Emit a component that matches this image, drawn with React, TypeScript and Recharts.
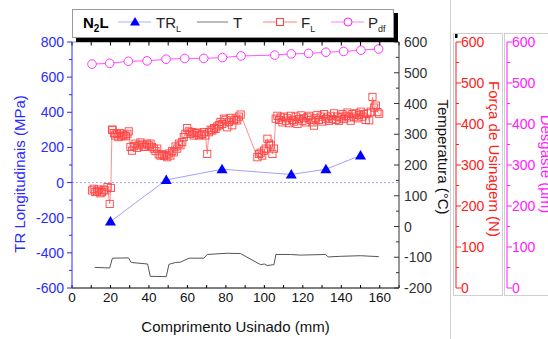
import { ComposedChart, Line, XAxis, YAxis, ReferenceLine } from "recharts";

const FONT = "'Liberation Sans', Arial, sans-serif";
const BLUE = "#2b2bff";
const RED = "#ff2020";
const MAG = "#ff20ff";

// eixo x e ticks
const xTicks = [0, 10, 20, 30, 40, 50, 60, 70, 80, 90, 100, 110, 120, 130, 140, 150, 160, 170];
const trTicks = [-600, -500, -400, -300, -200, -100, 0, 100, 200, 300, 400, 500, 600, 700, 800];
const tTicks = [-200, -150, -100, -50, 0, 50, 100, 150, 200, 250, 300, 350, 400, 450, 500, 550, 600];
const fTicks = [0, 50, 100, 150, 200, 250, 300, 350, 400, 450, 500, 550, 600];

// TR longitudinais (MPa)
const trX = [20, 49, 78, 114, 132, 150];
const trVal = [-222, 15, 76, 46, 76, 154];

// Temperatura (°C)
const tX = [11.8, 19.6, 21, 29.4, 30.8, 39.3, 40.7, 49, 50.4, 53.8, 56.4, 60.8, 68.6, 70.3, 80.7, 87.6, 98, 100, 101.5, 105, 106, 113.6, 118.8, 131.8, 133.2, 139.6, 150, 159.5];
const tVal = [-133, -135, -103, -102, -117, -122, -162, -163, -123, -117, -116, -103, -103, -91, -87, -88, -124, -122, -127, -124, -91, -91, -93, -91, -99, -97, -95, -98];

// Forca de usinagem (N)
const fX = [
  10.4, 11.3, 12.1, 13.0, 13.9, 14.8, 15.6, 16.5, 17.3, 18.5, 19.6, 20.2, 20.8,
  21.1, 21.8, 22.5, 23.3, 24.1, 24.8, 25.6, 26.4, 27.2, 28.1, 28.8, 29.5,
  30.4, 31.2, 32.1, 33.0, 33.8, 34.7, 35.6, 36.5, 37.3, 38.2, 39.0, 39.9, 40.8, 41.6, 42.5, 43.4, 44.3,
  45.1, 46.0, 46.9, 47.8, 48.6, 49.5, 50.4, 51.2, 52.1, 52.9, 53.8, 54.7, 55.6, 56.4, 57.3, 58.1, 59.0,
  59.9, 60.7, 61.6, 62.5, 63.3, 64.2, 65.1, 66.0, 66.8, 67.7, 68.6, 69.4, 70.3, 71.2, 72.1, 72.9, 73.8,
  74.6, 75.5, 76.4, 77.2, 78.1, 79.0, 79.8, 80.7, 81.6, 82.4, 83.3, 84.2, 85.1, 85.9, 86.8, 87.7,
  96.4, 97.2, 98.1, 98.9, 99.8, 100.7, 101.6, 102.4, 103.3, 104.2, 105.0, 105.9,
  106.8, 107.6, 108.5, 109.4, 110.2, 111.1, 112.0, 112.8, 113.7, 114.6, 115.4, 116.3, 117.2, 118.0,
  118.9, 119.8, 120.6, 121.5, 122.4, 123.2, 124.1, 125.0, 125.8, 126.7, 127.6, 128.4, 129.3, 130.2,
  131.0, 131.9, 132.8, 133.6, 134.5, 135.4, 136.2, 137.1, 138.0, 138.8, 139.7, 140.6, 141.4, 142.3,
  143.2, 144.0, 144.9, 145.8, 146.6, 147.5, 148.4, 149.2, 150.1, 151.0, 151.8, 152.7, 153.6, 154.5,
  155.3, 156.2, 157.1, 158.0, 158.8, 159.7,
];
const fVal = [
  238, 242, 234, 236, 240, 231, 234, 240, 238, 246, 205, 244, 386,
  386, 378, 372, 376, 368, 378, 370, 374, 372, 370, 376, 382,
  344, 335, 346, 352, 342, 348, 355, 350, 344, 345, 352, 348, 352, 344, 340, 334, 340,
  326, 323, 326, 322, 324, 319, 328, 323, 334, 331, 345, 340, 352, 348, 356, 368, 376,
  390, 382, 376, 380, 372, 378, 379, 372, 374, 376, 380, 372, 327, 380, 386, 384, 390,
  388, 394, 397, 405, 400, 413, 410, 392, 405, 415, 397, 409, 413, 409, 418, 423,
  319, 327, 330, 323, 335, 340, 364, 352, 348, 327, 340, 413,
  420, 410, 416, 404, 418, 408, 414, 402, 420, 410, 406, 418, 400, 412,
  421, 408, 414, 404, 416, 420, 410, 404, 396, 414, 422, 410, 418, 406,
  424, 412, 416, 408, 420, 412, 426, 410, 418, 408, 416, 424, 412, 420,
  428, 416, 408, 424, 418, 426, 414, 422, 430, 418, 424, 410, 426, 409,
  430, 466, 440, 445, 429, 425,
];

// Desgaste P_df
const pX = [10.4, 19.6, 29.3, 39, 48.9, 58.6, 68.5, 78.2, 87.9, 105.4, 114, 123, 132, 141.2, 150.2, 159.4];
const pVal = [546, 548, 553, 554, 558, 560, 560, 562, 566, 568, 571, 572, 575, 577, 580, 583];

const toPts = (xs: number[], vs: number[]) => xs.map((x, i) => ({ x, v: vs[i] }));
const trData = toPts(trX, trVal);
const tData = toPts(tX, tVal);
const fData = toPts(fX, fVal);
const pData = toPts(pX, pVal);

const TOP = 42;
const BOTTOM = 288;

const xTick = (props: any) => {
  const { x, payload } = props;
  const v = payload.value;
  return (
    <g>
      <line x1={x} x2={x} y1={BOTTOM} y2={BOTTOM - 3} stroke="#000" />
      <line x1={x} x2={x} y1={TOP} y2={TOP + 3.5} stroke="#000" />
      {v % 20 === 0 && v <= 160 && (
        <text x={x} y={302} textAnchor="middle" fontSize={13.5} fontFamily={FONT} fill="#111">
          {v}
        </text>
      )}
    </g>
  );
};

// ticks de eixo y: dir -1 = para a esquerda; a linha do eixo vai junto
const yTick = (axisX: number, dir: number, major: number, color: string, labelX: number, anchor: string) => (props: any) => {
  const { y, payload, index } = props;
  const v = payload.value;
  const isMajor = v % major === 0;
  const len = isMajor ? 5 : 3;
  return (
    <g>
      {index === 0 && <line x1={axisX} x2={axisX} y1={TOP} y2={BOTTOM} stroke={color} />}
      <line x1={axisX} x2={axisX + dir * len} y1={y} y2={y} stroke={color} />
      {isMajor && (
        <text x={labelX} y={y} dy={5} textAnchor={anchor} fontSize={14} fontFamily={FONT} fill={color}>
          {v}
        </text>
      )}
    </g>
  );
};

const VText = ({ x, y, angle, color, txt }: any) => (
  <text
    x={x}
    y={y}
    transform={`rotate(${angle} ${x} ${y})`}
    textAnchor="middle"
    dominantBaseline="central"
    fontSize={15}
    fontFamily={FONT}
    fill={color}
  >
    {txt}
  </text>
);

const square = (p: any) => (
  <rect key={`f${p.index}`} x={p.cx - 3.6} y={p.cy - 3.6} width={7.2} height={7.2} fill="none" stroke="#ff4444" strokeWidth={0.9} />
);
const circle = (p: any) => (
  <circle key={`p${p.index}`} cx={p.cx} cy={p.cy} r={4.3} fill="#fff" stroke={MAG} strokeWidth={0.9} />
);
const triangle = (p: any) => (
  <path key={`t${p.index}`} d={`M${p.cx},${p.cy - 5.5}L${p.cx + 5.5},${p.cy + 4}L${p.cx - 5.5},${p.cy + 4}Z`} fill="#0000ff" />
);

function LegendBox() {
  const y = 22;
  return (
    <div
      style={{
        position: "absolute",
        left: 72,
        top: 9,
        width: 320,
        height: 27,
        background: "#fff",
        border: "1px solid #999",
        boxShadow: "4px 4px 0 #000",
      }}
    >
      <svg width={320} height={27} style={{ position: "absolute", left: -1, top: -1 }} fontFamily={FONT}>
        <g transform="translate(-72,-9)">
          <text x={83} y={28} fontSize={15} fontWeight="bold" fill="#000">
            N<tspan fontSize={10} dy={4}>2</tspan>
            <tspan dy={-4}>L</tspan>
          </text>
          <line x1={118} x2={151} y1={y} y2={y} stroke="#aab0ff" />
          <path d={`M135,${y - 5}L140,${y + 3.5}L130,${y + 3.5}Z`} fill="#0000ff" />
          <text x={156} y={28} fontSize={15} fill="#222">
            TR<tspan fontSize={9} dy={4}>L</tspan>
          </text>
          <line x1={197} x2={228} y1={y} y2={y} stroke="#777" />
          <text x={233} y={28} fontSize={15} fill="#222">T</text>
          <line x1={263} x2={297} y1={y} y2={y} stroke="#ff8080" />
          <rect x={276.5} y={y - 3.5} width={7} height={7} fill="#fff" stroke="#ff4444" />
          <text x={301} y={28} fontSize={15} fill="#222">
            F<tspan fontSize={9} dy={4}>L</tspan>
          </text>
          <line x1={331} x2={364} y1={y} y2={y} stroke="#ff80ff" />
          <circle cx={348} cy={y} r={4} fill="#fff" stroke={MAG} />
          <text x={368} y={28} fontSize={15} fill="#222">
            P<tspan fontSize={9} dy={4}>df</tspan>
          </text>
        </g>
      </svg>
    </div>
  );
}

export default function App() {
  return (
    <div style={{ position: "absolute", left: 0, top: 0, width: 548, height: 339, overflow: "hidden", background: "#fff" }}>
      <div style={{ position: "absolute", left: 450, top: 0, width: 1, height: 339, background: "#d0d0d0" }} />
      <div style={{ position: "absolute", left: 453, top: 33, width: 48, height: 261, border: "1px solid #d0d0d0" }} />
      <div style={{ position: "absolute", left: 504, top: 33, width: 60, height: 261, border: "1px solid #d0d0d0" }} />
      <div style={{ position: "absolute", left: 0, top: 0 }}>
        <ComposedChart width={548} height={339} margin={{ top: TOP, right: 0, bottom: 0, left: 0 }}>
          <XAxis
            dataKey="x"
            type="number"
            domain={[0, 170]}
            ticks={xTicks}
            height={339 - BOTTOM}
            axisLine={{ stroke: "#000" }}
            tickLine={false}
            tick={xTick}
            interval={0}
            allowDataOverflow
          />
          <YAxis
            yAxisId="tr"
            orientation="left"
            width={72}
            domain={[-600, 800]}
            ticks={trTicks}
            interval={0}
            axisLine={false}
            tickLine={false}
            tick={yTick(72, -1, 200, BLUE, 64, "end")}
          />
          <YAxis
            yAxisId="t"
            orientation="right"
            width={57}
            domain={[-200, 600]}
            ticks={tTicks}
            interval={0}
            axisLine={false}
            tickLine={false}
            tick={yTick(399, -1, 100, "#333", 404, "start")}
          />
          <YAxis
            yAxisId="f"
            orientation="right"
            width={51}
            domain={[0, 600]}
            ticks={fTicks}
            interval={0}
            axisLine={false}
            tickLine={false}
            tick={yTick(456, 1, 100, RED, 461, "start")}
          />
          <YAxis
            yAxisId="p"
            orientation="right"
            width={41}
            domain={[0, 600]}
            ticks={fTicks}
            interval={0}
            axisLine={false}
            tickLine={false}
            tick={yTick(507, 1, 100, MAG, 512, "start")}
          />
          <ReferenceLine yAxisId="tr" y={800} stroke="#777" strokeWidth={0.8} />
          <ReferenceLine yAxisId="tr" y={0} stroke="#8f8fff" strokeDasharray="2 2" strokeWidth={0.8} />
          <Line yAxisId="t" data={tData} dataKey="v" type="linear" stroke="#555" strokeWidth={1} dot={false} isAnimationActive={false} />
          <Line yAxisId="p" data={pData} dataKey="v" type="linear" stroke="#ff55ff" strokeWidth={1} dot={circle} isAnimationActive={false} />
          <Line yAxisId="f" data={fData} dataKey="v" type="linear" stroke="#ff7070" strokeWidth={0.8} dot={square} isAnimationActive={false} />
          <Line yAxisId="tr" data={trData} dataKey="v" type="linear" stroke="#a0a0ff" strokeWidth={1} dot={triangle} isAnimationActive={false} />
        </ComposedChart>
      </div>
      <svg width={548} height={339} style={{ position: "absolute", left: 0, top: 0, pointerEvents: "none" }}>
        <rect x={455} y={34} width={2.5} height={4} fill="#000" />
        <VText x={19} y={174} angle={-90} color={BLUE} txt="TR Longitudinais (MPa)" />
        <VText x={443} y={157} angle={90} color="#111" txt="Temperatura (°C)" />
        <VText x={494} y={159} angle={90} color={RED} txt="Força de Usinagem (N)" />
        <VText x={546} y={164} angle={90} color={MAG} txt="Desgaste (µm)" />
        <text x={235.5} y={332} textAnchor="middle" fontSize={15} fontFamily={FONT} fill="#111">
          Comprimento Usinado (mm)
        </text>
      </svg>
      <LegendBox />
    </div>
  );
}
